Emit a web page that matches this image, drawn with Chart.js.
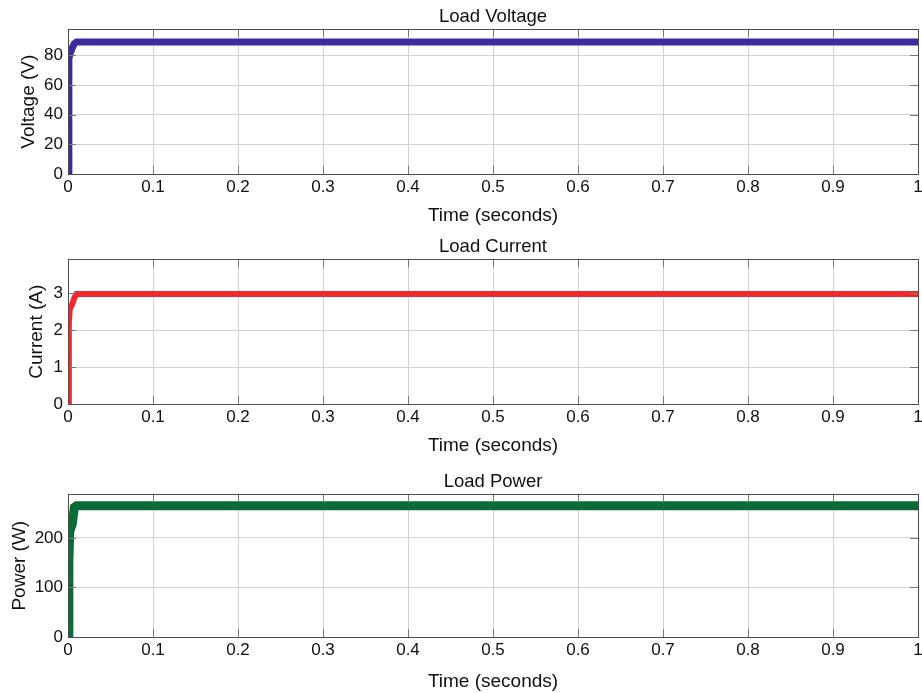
<!DOCTYPE html>
<html>
<head>
<meta charset="utf-8">
<script src="https://cdn.jsdelivr.net/npm/chart.js@4.4.0/dist/chart.umd.min.js"></script>
<style>
  html, body { margin: 0; padding: 0; background: #fff; overflow: hidden; }
  canvas { position: absolute; left: 0; }
</style>
</head>
<body>
<canvas id="voltChart" width="922" height="230" style="top:0px"></canvas>
<canvas id="currChart" width="922" height="230" style="top:230px"></canvas>
<canvas id="powChart" width="922" height="230" style="top:465px"></canvas>
<script>
// time samples (seconds)
const time = [0, 0.001, 0.002, 0.003, 0.005, 0.0075, 0.01, 0.012, 0.02, 0.1, 0.2, 0.3, 0.4, 0.5, 0.6, 0.7, 0.8, 0.9, 1.0];
// load voltage (V)
const voltage = [0, 78, 80, 82, 85, 88, 89, 89, 89, 89, 89, 89, 89, 89, 89, 89, 89, 89, 89];
// load current (A)
const current = [0, 2.2, 2.55, 2.62, 2.7, 2.88, 2.98, 2.98, 2.98, 2.98, 2.98, 2.98, 2.98, 2.98, 2.98, 2.98, 2.98, 2.98, 2.98];
// load power (W)
const power = [0, 150, 212, 218, 228, 262, 265, 265, 265, 265, 265, 265, 265, 265, 265, 265, 265, 265, 265];

const FONT = '"Liberation Sans", Arial, sans-serif';
const TXT = '#111';

// box round the plot with small inward ticks, matlab style
const boxPlugin = {
  id: 'box',
  afterDraw(chart) {
    const { ctx, chartArea: a, scales } = chart;
    ctx.save();
    ctx.strokeStyle = '#7a7a7a';
    ctx.lineWidth = 1;
    ctx.beginPath();
    scales.x.ticks.forEach(t => {
      const px = Math.round(scales.x.getPixelForValue(t.value)) + 0.5;
      ctx.moveTo(px, a.top); ctx.lineTo(px, a.top + 8);
      ctx.moveTo(px, a.bottom); ctx.lineTo(px, a.bottom - 8);
    });
    scales.y.ticks.forEach(t => {
      const py = Math.round(scales.y.getPixelForValue(t.value)) + 0.5;
      ctx.moveTo(a.left, py); ctx.lineTo(a.left + 8, py);
      ctx.moveTo(a.right, py); ctx.lineTo(a.right - 8, py);
    });
    ctx.stroke();
    ctx.strokeStyle = '#4d4d4d';
    ctx.strokeRect(Math.round(a.left) + 0.5, Math.round(a.top) + 0.5,
      Math.round(a.right - a.left), Math.round(a.bottom - a.top));
    ctx.restore();
  }
};

function makePanel(id, title, yTitle, values, color, width, yMax, yStep, yTitlePad, xHeight, xTitlePad) {
  const ctx = document.getElementById(id).getContext('2d');
  return new Chart(ctx, {
    type: 'line',
    data: {
      datasets: [{
        data: time.map((t, i) => ({ x: t, y: values[i] })),
        borderColor: color,
        borderWidth: width,
        pointRadius: 0,
        tension: 0,
        fill: false
      }]
    },
    options: {
      responsive: false,
      animation: false,
      layout: { padding: { left: 0, right: 4, top: 0, bottom: 0 } },
      plugins: {
        legend: { display: false },
        tooltip: { enabled: false },
        title: {
          display: true,
          fullSize: false,
          text: title,
          color: TXT,
          font: { family: FONT, size: 18.5, weight: 'normal' },
          padding: { top: 5.8, bottom: 1.4 }
        }
      },
      scales: {
        x: {
          type: 'linear',
          min: 0,
          max: 1,
          ticks: {
            stepSize: 0.1,
            color: TXT,
            font: { family: FONT, size: 17 },
            padding: 3,
            maxRotation: 0,
            autoSkip: false,
            callback: v => String(Number(v.toFixed(1)))
          },
          grid: { color: '#d2d2d2', drawTicks: false },
          border: { display: false },
          title: {
            display: true,
            text: 'Time (seconds)',
            color: TXT,
            font: { family: FONT, size: 19 },
            padding: { top: 0, bottom: xTitlePad }
          },
          afterFit(scale) {
            scale.height = xHeight;
            scale.paddingLeft = 0;
            scale.paddingRight = 0;
          }
        },
        y: {
          min: 0,
          max: yMax,
          ticks: {
            stepSize: yStep,
            includeBounds: false,
            color: TXT,
            font: { family: FONT, size: 17 },
            padding: 5
          },
          grid: { color: '#d2d2d2', drawTicks: false },
          border: { display: false },
          title: {
            display: true,
            text: yTitle,
            color: TXT,
            font: { family: FONT, size: 19 },
            padding: { top: yTitlePad, bottom: 0 }
          },
          afterFit(scale) {
            scale.width = 68;
            scale.paddingTop = 0;
            scale.paddingBottom = 0;
          }
        }
      }
    },
    plugins: [boxPlugin]
  });
}

makePanel('voltChart', 'Load Voltage', 'Voltage (V)', voltage, '#3d2d9c', 7, 97.5, 20, 17.6, 56, 2.6);
makePanel('currChart', 'Load Current', 'Current (A)', current, '#ee2a2e', 6, 3.92, 1, 25.6, 56, 2.6);
makePanel('powChart', 'Load Power', 'Power (W)', power, '#0b6b36', 9, 288, 100, 8.6, 58, 1.6);
</script>
</body>
</html>
